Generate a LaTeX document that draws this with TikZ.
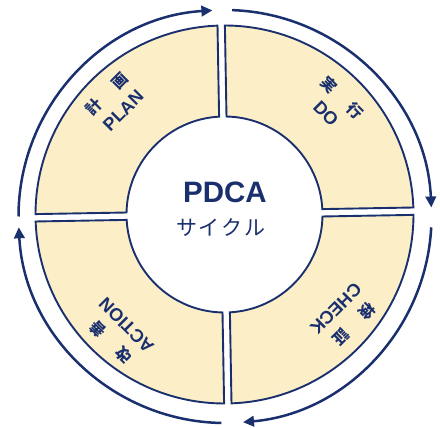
\documentclass[tikz,border=0pt]{standalone}
\usepackage{fontspec}
\setmainfont{Liberation Sans}
\newfontfamily\jpfont{Noto Sans CJK JP}
\usetikzlibrary{arrows.meta}
\definecolor{navy}{HTML}{1A2F6E}
\definecolor{cream}{HTML}{FCEFC8}
\begin{document}
\begin{tikzpicture}[x=1pt,y=1pt,
  piece/.style={draw=navy, line width=1.9pt, fill=cream, line join=miter},
  cyc/.style={draw=navy, line width=2.5pt, -{Triangle[width=10.5pt,length=11pt]}},
  lat/.style={text=navy, font=\fontsize{18}{20}\selectfont\bfseries, inner sep=0pt},
  cjk/.style={text=navy, font=\jpfont\fontsize{15.5}{17}\selectfont\bfseries, inner sep=0pt}]
\useasboundingbox (0,0) rectangle (440,428);
\coordinate (O) at (224.5,213.5);
\coordinate (A) at (225,211.5);
\def\ro{189}\def\ri{98}\def\gd{3.7}
\pgfmathsetmacro\dO{asin(\gd/\ro)}
\pgfmathsetmacro\dI{asin(\gd/\ri)}
\begin{scope}[shift={(O)}, rotate=1]
 \foreach \a in {0,90,180,270} {
   \path[piece] (\a+\dO:\ro pt) arc[start angle=\a+\dO, end angle=\a+90-\dO, radius=\ro pt]
     -- (\a+90-\dI:\ri pt) arc[start angle=\a+90-\dI, end angle=\a+\dI, radius=\ri pt] -- cycle;
 }
\end{scope}
\begin{scope}[shift={(A)}]
 \draw[cyc] (180:206.5pt) arc[start angle=180, end angle=93.5, radius=206.5pt];
 \draw[cyc] (88:206.5pt) arc[start angle=88, end angle=2.5, radius=206.5pt];
 \draw[cyc] (-3:206.5pt) arc[start angle=-3, end angle=-85, radius=206.5pt];
 \draw[cyc] (-91:206.5pt) arc[start angle=-91, end angle=-177, radius=206.5pt];
\end{scope}
\begin{scope}[shift={(O)}]
 \node[lat, rotate=45] (plan) at (134.3:145pt) {PLAN};
 \node[cjk, rotate=45] (keikaku) at (134.3:168pt) {計\hspace{21pt}画};
 \node[lat, rotate=-45] (do) at (44.8:143pt) {DO};
 \node[cjk, rotate=-45] (jikko) at (44.8:166pt) {実\hspace{21pt}行};
 \node[lat, rotate=-135] (check) at (-40.3:146pt) {CHECK};
 \node[cjk, rotate=-135] (kensho) at (-40.3:169.5pt) {検\hspace{21pt}証};
 \node[lat, rotate=135] (action) at (-131.5:148pt) {ACTION};
 \node[cjk, rotate=135] (kaizen) at (-131.5:171pt) {改\hspace{21pt}善};
\end{scope}
\node[text=navy, font=\fontsize{29.5}{30}\selectfont\bfseries, inner sep=0pt] (pdca) at (225,235.5) {PDCA};
\node[text=navy, font=\jpfont\fontsize{21}{22}\selectfont, inner sep=0pt] (cycle) at (221,200) {サ\hspace{2pt}イ\hspace{2pt}ク\hspace{2pt}ル};
\end{tikzpicture}
\end{document}
